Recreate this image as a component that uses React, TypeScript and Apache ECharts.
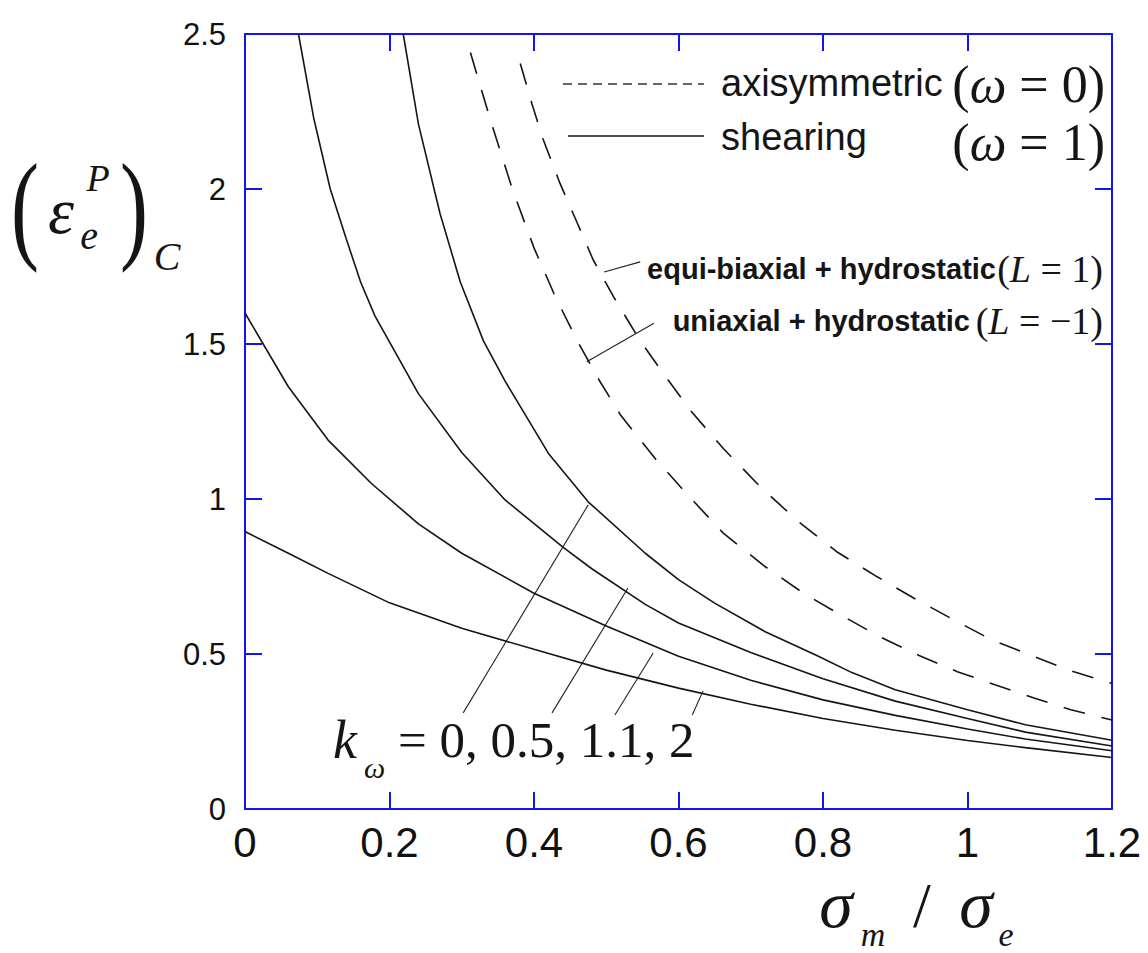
import React, { useEffect, useRef } from "react";
import * as echarts from "echarts";

// ---- data ----
const xTicks = [0, 0.2, 0.4, 0.6, 0.8, 1, 1.2];
const yTicks = [0, 0.5, 1, 1.5, 2, 2.5];

// shearing (omega = 1), k_omega = 0
const kw0X = [0.219, 0.24, 0.27, 0.298, 0.33, 0.36, 0.42, 0.475, 0.554, 0.6, 0.65, 0.72, 0.79, 0.84, 0.9, 1.0, 1.08, 1.2];
const kw0Y = [2.5, 2.21, 1.92, 1.7, 1.51, 1.38, 1.147, 0.991, 0.825, 0.74, 0.664, 0.572, 0.497, 0.44, 0.385, 0.32, 0.272, 0.222];
// k_omega = 0.5
const kw05X = [0.074, 0.095, 0.118, 0.14, 0.16, 0.18, 0.24, 0.3, 0.36, 0.44, 0.48, 0.554, 0.6, 0.7, 0.8, 0.9, 1.0, 1.08, 1.2];
const kw05Y = [2.5, 2.23, 2.0, 1.84, 1.7, 1.59, 1.34, 1.15, 0.997, 0.845, 0.775, 0.66, 0.6, 0.505, 0.42, 0.348, 0.292, 0.248, 0.203];
// k_omega = 1.1
const kw11X = [0, 0.06, 0.115, 0.175, 0.24, 0.3, 0.4, 0.5, 0.6, 0.7, 0.8, 0.9, 1.0, 1.08, 1.2];
const kw11Y = [1.6, 1.362, 1.19, 1.05, 0.92, 0.825, 0.696, 0.59, 0.493, 0.415, 0.352, 0.302, 0.258, 0.226, 0.188];
// k_omega = 2
const kw2X = [0, 0.06, 0.115, 0.2, 0.3, 0.4, 0.5, 0.6, 0.7, 0.8, 0.9, 1.0, 1.08, 1.2];
const kw2Y = [0.895, 0.825, 0.76, 0.665, 0.583, 0.515, 0.448, 0.39, 0.338, 0.292, 0.254, 0.221, 0.198, 0.166];

// axisymmetric (omega = 0), uniaxial + hydrostatic (L = -1)
const uniX = [0.312, 0.34, 0.37, 0.4, 0.43, 0.46, 0.49, 0.52, 0.568, 0.612, 0.662, 0.718, 0.773, 0.829, 0.879, 0.933, 0.986, 1.039, 1.092, 1.143, 1.2];
const uniY = [2.44, 2.22, 2.0, 1.81, 1.65, 1.51, 1.384, 1.27, 1.13, 1.015, 0.89, 0.785, 0.696, 0.62, 0.555, 0.495, 0.443, 0.4, 0.358, 0.32, 0.287];
// equi-biaxial + hydrostatic (L = 1)
const equiX = [0.381, 0.397, 0.413, 0.436, 0.459, 0.482, 0.51, 0.547, 0.579, 0.616, 0.662, 0.713, 0.766, 0.819, 0.875, 0.926, 0.981, 1.034, 1.087, 1.14, 1.2];
const equiY = [2.405, 2.276, 2.158, 2.018, 1.895, 1.771, 1.653, 1.51, 1.405, 1.287, 1.163, 1.04, 0.927, 0.83, 0.749, 0.68, 0.61, 0.545, 0.497, 0.448, 0.405];

// annotation leader lines (data coordinates)
const leaderK0 = [[0.302, 0.31], [0.475, 0.981]];
const leaderK05 = [[0.425, 0.31], [0.53, 0.713]];
const leaderK11 = [[0.512, 0.303], [0.565, 0.503]];
const leaderK2 = [[0.619, 0.303], [0.634, 0.381]];
const leaderEqui = [[0.497, 1.732], [0.547, 1.765]];
const leaderUni = [[0.473, 1.443], [0.566, 1.567]];

const BLUE = "#1414f0";
const INK = "#151515";
const SANS = '"Liberation Sans", Arial, sans-serif';
const SERIF = '"Liberation Serif", "Times New Roman", serif';

const zip = (xs: number[], ys: number[]) => xs.map((x, i) => [x, ys[i]]);

function curve(name: string, xs: number[], ys: number[], dashed: boolean) {
  return {
    name,
    type: "line",
    data: zip(xs, ys),
    showSymbol: false,
    symbol: "none",
    smooth: false,
    silent: true,
    lineStyle: { color: INK, width: 1.6, type: dashed ? [22, 17] : "solid" },
    z: 3,
  };
}

function leader(pts: number[][]) {
  return {
    type: "line",
    data: pts,
    showSymbol: false,
    symbol: "none",
    silent: true,
    lineStyle: { color: "#222", width: 1.1 },
    z: 2,
  };
}

function txt(x: number, y: number, text: string, o: any) {
  const align = o.align || "left";
  return {
    type: "text",
    x,
    y,
    scaleX: o.scaleX || 1,
    z: 100,
    style: {
      text,
      fill: o.fill || INK,
      fontFamily: o.family || SERIF,
      fontSize: o.size,
      fontStyle: o.italic ? "italic" : "normal",
      fontWeight: o.bold ? "bold" : "normal",
      align,
      verticalAlign: "middle",
      textAlign: align,
      textVerticalAlign: "middle",
      rich: o.rich,
    },
  };
}

function mathRich(size: number) {
  return {
    u: { fontFamily: SERIF, fontSize: size, fill: INK },
    i: { fontFamily: SERIF, fontSize: size, fontStyle: "italic", fill: INK },
  };
}

export default function App() {
  const ref = useRef<HTMLDivElement>(null);
  useEffect(() => {
    if (!ref.current) return;
    const chart = echarts.init(ref.current, undefined, { renderer: "svg" });
    const axisCommon = {
      type: "value",
      axisLine: { show: true, onZero: false, lineStyle: { color: BLUE, width: 2 } },
      axisTick: { show: true, inside: true, length: 17, lineStyle: { color: BLUE, width: 2 } },
      splitLine: { show: false },
    };
    chart.setOption({
      animation: false,
      backgroundColor: "#ffffff",
      grid: { left: 245, right: 36, top: 34, bottom: 144, containLabel: false },
      xAxis: [
        {
          ...axisCommon,
          position: "bottom",
          min: xTicks[0],
          max: xTicks[xTicks.length - 1],
          interval: 0.2,
          axisLabel: { color: "#111", fontSize: 42, fontFamily: SANS, margin: 12, formatter: (v: number) => String(+v.toFixed(1)) },
        },
        {
          ...axisCommon,
          position: "top",
          min: xTicks[0],
          max: xTicks[xTicks.length - 1],
          interval: 0.2,
          axisLabel: { show: false },
        },
      ],
      yAxis: [
        {
          ...axisCommon,
          position: "left",
          min: yTicks[0],
          max: yTicks[yTicks.length - 1],
          interval: 0.5,
          axisLabel: { color: "#111", fontSize: 31, fontFamily: SANS, margin: 19, formatter: (v: number) => String(+v.toFixed(1)) },
        },
        {
          ...axisCommon,
          position: "right",
          min: yTicks[0],
          max: yTicks[yTicks.length - 1],
          interval: 0.5,
          axisLabel: { show: false },
        },
      ],
      series: [
        curve("k=0", kw0X, kw0Y, false),
        curve("k=0.5", kw05X, kw05Y, false),
        curve("k=1.1", kw11X, kw11Y, false),
        curve("k=2", kw2X, kw2Y, false),
        curve("L=-1", uniX, uniY, true),
        curve("L=1", equiX, equiY, true),
        leader(leaderK0),
        leader(leaderK05),
        leader(leaderK11),
        leader(leaderK2),
        leader(leaderEqui),
        leader(leaderUni),
      ],
      graphic: [
        // legend
        { type: "line", shape: { x1: 563, y1: 84, x2: 704, y2: 84 }, style: { stroke: "#333", lineWidth: 1.5, lineDash: [9, 6] }, z: 100 },
        { type: "line", shape: { x1: 568, y1: 136, x2: 704, y2: 136 }, style: { stroke: INK, lineWidth: 1.5 }, z: 100 },
        txt(721, 83, "axisymmetric", { family: SANS, size: 38 }),
        txt(721, 137, "shearing", { family: SANS, size: 38 }),
        txt(1105, 84, "{u|(}{i|ω}{u| = 0)}", { size: 52, align: "right", rich: mathRich(52) }),
        txt(1105, 142, "{u|(}{i|ω}{u| = 1)}", { size: 52, align: "right", rich: mathRich(52) }),
        // curve annotations
        txt(996, 269, "equi-biaxial + hydrostatic", { family: SANS, size: 29, bold: true, align: "right" }),
        txt(1103, 269, "{u|(}{i|L}{u| = 1)}", { size: 38, align: "right", rich: mathRich(38) }),
        txt(970, 321, "uniaxial + hydrostatic", { family: SANS, size: 29, bold: true, align: "right" }),
        txt(1103, 321, "{u|(}{i|L}{u| = −1)}", { size: 38, align: "right", rich: mathRich(38) }),
        // k_omega label
        txt(333, 740, "k", { size: 54, italic: true }),
        txt(364, 767, "ω", { size: 30, italic: true }),
        txt(398, 740, "= 0, 0.5, 1.1, 2", { size: 51 }),
        // y axis title
        txt(25, 206, "(", { size: 120, scaleX: 0.7, align: "center" }),
        txt(61, 210, "ε", { size: 66, italic: true, align: "center" }),
        txt(98, 178, "P", { size: 38, italic: true, align: "center" }),
        txt(89, 235, "e", { size: 40, italic: true, align: "center" }),
        txt(134, 206, ")", { size: 120, scaleX: 0.7, align: "center" }),
        txt(167, 256, "C", { size: 40, italic: true, align: "center" }),
        // x axis title
        txt(836, 904, "σ", { size: 68, italic: true, align: "center" }),
        txt(873, 934, "m", { size: 34, italic: true, align: "center" }),
        txt(922, 905, "/", { size: 64, align: "center" }),
        txt(976, 904, "σ", { size: 68, italic: true, align: "center" }),
        txt(1006, 934, "e", { size: 34, italic: true, align: "center" }),
      ],
    });
    return () => chart.dispose();
  }, []);
  return <div ref={ref} style={{ position: "fixed", left: 0, top: 0, width: 1148, height: 953, background: "#fff" }} />;
}
